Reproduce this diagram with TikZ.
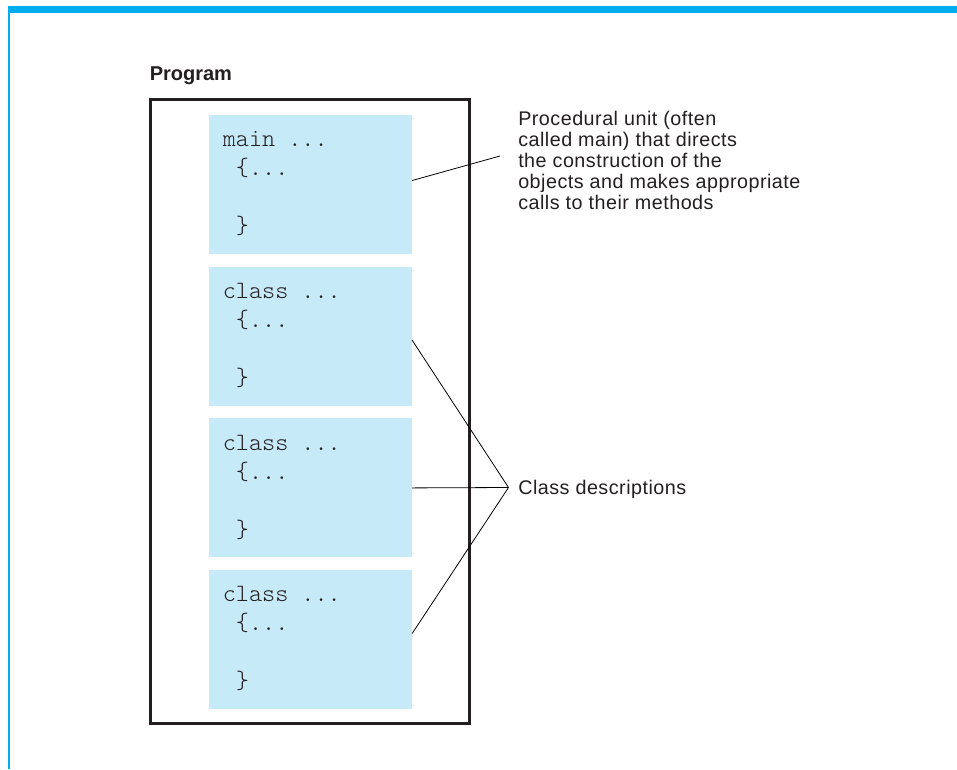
\documentclass[tikz,border=0pt]{standalone}
\usepackage{fontspec}
\setmainfont{Liberation Sans}
\setmonofont{Latin Modern Mono Light}
\newfontfamily\lblfont[LetterSpace=2.5]{Liberation Sans}
\usetikzlibrary{calc}
\definecolor{barcyan}{RGB}{0,174,239}
\definecolor{codeblue}{RGB}{199,234,249}
\definecolor{inkgray}{RGB}{35,31,32}

\begin{document}
\begin{tikzpicture}[x=0.75pt, y=-0.75pt,
		codebox/.style={fill=codeblue, minimum width=152.25pt, minimum height=104.25pt, inner sep=0pt},
		code/.style={font=\ttfamily\fontsize{18.7}{21}\selectfont, text=inkgray, inner sep=0pt, anchor=base west},
		lbl/.style={font=\lblfont\fontsize{14.8}{15.75}\selectfont, text=inkgray, inner sep=0pt, align=left, anchor=base west},
		leader/.style={draw=black, line width=0.6pt}
	]
	\useasboundingbox (0,0) rectangle (957,769);
	\fill[barcyan] (8.3,6) rectangle (957,13.3);
	\draw[barcyan, line width=1.5pt] (9.3,6) -- (9.3,769);
	\node[lbl, font=\bfseries\fontsize{15}{18}\selectfont] (title) at (149.5,80) {Program};
	\node[draw=inkgray, line width=1.9pt, minimum width=239.25pt, minimum height=468pt, inner sep=0pt] (prog) at (310,411.5) {};
	\foreach \i/\y/\kw in {1/184.5/main, 2/336.2/class, 3/487.9/class, 4/639.5/class} {
		\node[codebox] (box\i) at (310.4,\y) {};
		\node[code] (head\i) at ($(box\i.north west)+(14,32)$) {\kw\ ...};
		\node[code] (open\i) at ($(head\i.base west)+(0,29)$) {\ \{...};
		\node[code] (close\i) at ($(head\i.base west)+(0,87)$) {\ \}};
	}
	\coordinate (mainend) at (500,156);
	\coordinate (apex) at (508.5,487.5);
	\draw[leader] ($(box1.east)+(0,-4)$) -- (mainend);
	\draw[leader] ($(box2.east)+(0,4)$) -- (apex);
	\draw[leader] (box3.east) -- (apex);
	\draw[leader] ($(box4.east)+(0,-6)$) -- (apex);
	\node[lbl] (mainnote) at (518,209) {Procedural unit (often\\called main) that directs\\the construction of the\\objects and makes appropriate\\calls to their methods};
	\node[lbl] (classnote) at (518,494) {Class descriptions};
\end{tikzpicture}
\end{document}
